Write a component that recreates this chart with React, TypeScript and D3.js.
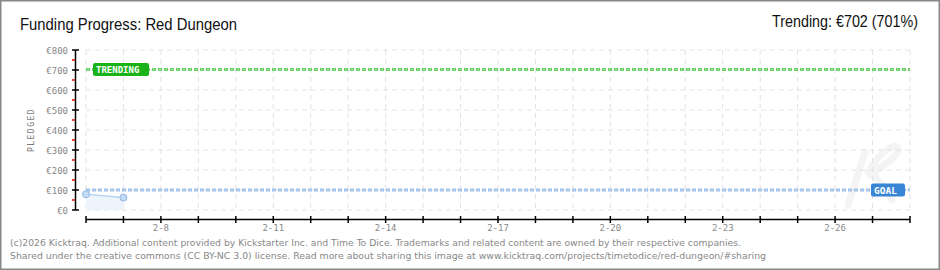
import React from "react";
import * as d3 from "d3";

const title = "Funding Progress: Red Dungeon";
const trendingText = "Trending: €702 (701%)";
const footer1 = "(c)2026 Kicktraq. Additional content provided by Kickstarter Inc. and Time To Dice. Trademarks and related content are owned by their respective companies.";
const footer2 = "Shared under the creative commons (CC BY-NC 3.0) license. Read more about sharing this image at www.kicktraq.com/projects/timetodice/red-dungeon/#sharing";

const startDate = new Date(2026, 1, 6);
const endDate = new Date(2026, 1, 28);
const pledgedDates = [new Date(2026, 1, 6), new Date(2026, 1, 7)];
const pledgedValues = [79, 62];
const goalValue = 100;
const trendingValue = 702;
const yTickValues = [0, 100, 200, 300, 400, 500, 600, 700, 800];
const xLabelDays = [8, 11, 14, 17, 20, 23, 26];

const W = 940, H = 270;
const L = 86, R = 910, T = 50, B = 210;

export default function App() {
  const x = d3.scaleTime().domain([startDate, endDate]).range([L, R]);
  const y = d3.scaleLinear().domain([0, 800]).range([B, T]);
  const dayTicks = d3.timeDay.range(startDate, d3.timeDay.offset(endDate, 1));
  const minorY = d3.range(50, 800, 100);
  const pts = pledgedDates.map((d, i) => [x(d), y(pledgedValues[i])] as [number, number]);
  const line = d3.line()(pts) || "";
  const area = d3.area<[number, number]>().x(p => p[0]).y0(B).y1(p => p[1])(pts) || "";
  const pixelFont = "'DejaVu Sans Mono', monospace";
  const titleFont = "'Liberation Sans', Arial, sans-serif";
  const gy = y(goalValue), ty = y(trendingValue);

  return (
    <svg width={W} height={H} style={{ position: "absolute", left: 0, top: 0, background: "#fff" }}>
      <rect x={0.5} y={0.5} width={W - 1} height={H - 1} fill="#fff" stroke="#888" strokeWidth={2} />
      <text x={20} y={30} fontFamily={titleFont} fontSize={16.5} fill="#111" textLength={217} lengthAdjust="spacingAndGlyphs">{title}</text>
      <text x={772} y={27} fontFamily={titleFont} fontSize={16.5} fill="#111" textLength={146} lengthAdjust="spacingAndGlyphs">{trendingText}</text>

      {/* watermark */}
      <g fill="none" stroke="#f4f4f4" strokeWidth={7} strokeLinecap="round" strokeLinejoin="round">
        <path d="M865,152 L848,205" />
        <path d="M870,175 C885,165 900,155 898,148 C895,142 880,152 868,172 C880,180 888,190 892,200" />
      </g>

      {/* grid */}
      {dayTicks.map((d, i) => (
        <line key={"gx" + i} x1={x(d)} x2={x(d)} y1={T} y2={B} stroke="#e2e2e2" strokeDasharray="5,4" />
      ))}
      {yTickValues.map(v => (
        <line key={"gy" + v} x1={L} x2={R} y1={y(v)} y2={y(v)} stroke="#e2e2e2" strokeDasharray="5,4" />
      ))}

      {/* y axis */}
      <line x1={75.5} x2={75.5} y1={T} y2={B} stroke="#000" strokeWidth={1.5} />
      {yTickValues.map(v => (
        <g key={"yt" + v}>
          <line x1={72} x2={79} y1={y(v)} y2={y(v)} stroke="#000" strokeWidth={1.5} />
          <text x={68} y={y(v) + 3.5} textAnchor="end" fontFamily={pixelFont} fontSize={9} fill="#888">€{v}</text>
        </g>
      ))}
      {minorY.map(v => (
        <line key={"ym" + v} x1={72} x2={75} y1={y(v)} y2={y(v)} stroke="#e00" strokeWidth={1.5} />
      ))}
      <text transform={`translate(34,${(T + B) / 2}) rotate(-90)`} textAnchor="middle" fontFamily={pixelFont} fontSize={8} letterSpacing={1.5} fill="#777">PLEDGED</text>

      {/* x axis */}
      <line x1={L} x2={R} y1={219.5} y2={219.5} stroke="#000" strokeWidth={1.5} />
      {dayTicks.map((d, i) => (
        <line key={"xt" + i} x1={x(d)} x2={x(d)} y1={216} y2={223} stroke="#000" strokeWidth={1.5} />
      ))}
      {xLabelDays.map(day => (
        <text key={"xl" + day} x={x(new Date(2026, 1, day))} y={231} textAnchor="middle" fontFamily={pixelFont} fontSize={9} fill="#888">2-{day}</text>
      ))}

      {/* pledged */}
      <path d={area} fill="#edf4fc" />
      <path d={line} fill="none" stroke="#b8d4f0" strokeWidth={1.5} />

      {/* goal line */}
      <line x1={L} x2={R} y1={gy} y2={gy} stroke="#9cc0e8" strokeWidth={3} strokeDasharray="4,2" />
      <line x1={L} x2={R} y1={gy} y2={gy} stroke="#c4dbf3" strokeWidth={1} strokeDasharray="2,4" strokeDashoffset={-1} />
      {/* trending line */}
      <line x1={L} x2={R} y1={ty} y2={ty} stroke="#66d066" strokeWidth={3} strokeDasharray="4,2" />
      <line x1={L} x2={R} y1={ty} y2={ty} stroke="#a8e6a8" strokeWidth={1} strokeDasharray="2,4" strokeDashoffset={-1} />

      {pts.map((p, i) => (
        <circle key={"pt" + i} cx={p[0]} cy={p[1]} r={3.5} fill="#c4dcf5" stroke="#8fb6e2" strokeWidth={1} />
      ))}

      {/* labels */}
      <rect x={93} y={ty - 6.5} width={56} height={13} rx={2} fill="#19b319" />
      <text x={96} y={ty + 3.5} fontFamily={pixelFont} fontWeight="bold" fontSize={9} fill="#fff">TRENDING</text>
      <rect x={871} y={gy - 6.5} width={34} height={13} rx={2} fill="#3a86d6" />
      <text x={874} y={gy + 3.5} fontFamily={pixelFont} fontWeight="bold" fontSize={9.5} fill="#fff">GOAL</text>

      {/* footer */}
      <text x={10} y={246} fontFamily="'DejaVu Sans Condensed', 'DejaVu Sans', sans-serif" fontSize={9.5} fill="#888" textLength={731} lengthAdjust="spacingAndGlyphs">{footer1}</text>
      <text x={10} y={259} fontFamily="'DejaVu Sans Condensed', 'DejaVu Sans', sans-serif" fontSize={9.5} fill="#888" textLength={756} lengthAdjust="spacingAndGlyphs">{footer2}</text>
    </svg>
  );
}
